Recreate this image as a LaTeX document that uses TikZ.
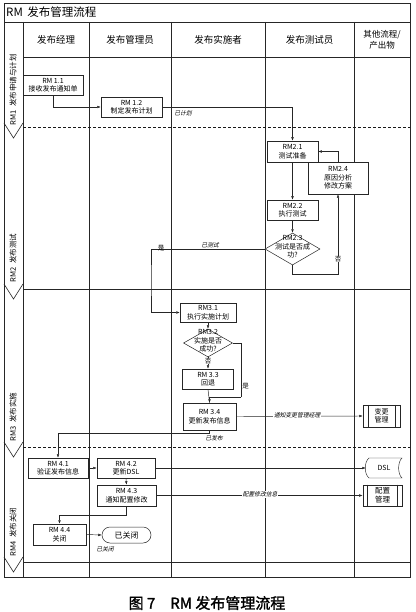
\documentclass[tikz,border=0pt]{standalone}
\usepackage{fontspec}
\setmainfont{Noto Sans CJK SC}
\newfontfamily\slfont[FakeSlant=0.25]{Noto Sans CJK SC}
\newfontfamily\capfont[FakeBold=1.5]{Noto Sans CJK SC}
\usetikzlibrary{arrows.meta,shapes.geometric}
\begin{document}
\begin{tikzpicture}[x=1pt,y=-1pt,
  frame/.style={draw=black!85,line width=0.6pt},
  dline/.style={draw=black!90,line width=1pt,dash pattern=on 3pt off 2pt},
  box/.style={draw=black!85,line width=0.5pt,inner sep=0pt,align=center,fill=white,
    font=\fontsize{7}{8.5}\selectfont},
  arr/.style={draw=black!85,line width=0.45pt,-{Latex[length=3.5pt,width=2.6pt]}},
  ln/.style={draw=black!85,line width=0.45pt},
  lbl/.style={font=\slfont\fontsize{5.8}{6.5}\selectfont,inner sep=1pt},
  dia/.style={diamond,draw=black!85,line width=0.5pt,inner sep=0pt,fill=white},
  dtext/.style={align=center,inner sep=0pt,font=\fontsize{7}{8.5}\selectfont},
  hdr/.style={align=center,inner sep=0pt,font=\fontsize{9.5}{11}\selectfont},
  lane/.style={rotate=90,inner sep=0pt,font=\fontsize{7.5}{8}\selectfont}
]
\useasboundingbox (0,0) rectangle (415,612);
\fill[white] (0,0) rectangle (415,612);

% frame
\draw[frame] (4,3) rectangle (410,577);
\draw[frame] (4,22) -- (410,22);
\draw[frame] (23,57) -- (410,57);
\foreach \x in {23,89,171,265,354} \draw[frame] (\x,22) -- (\x,577);
\draw[dline] (23,128) -- (410,128);
\draw[frame] (23,289) -- (410,289);
\draw[dline] (23,447) -- (410,447);
\draw[frame] (23,562) -- (410,562);
\foreach \b in {128,289,447,562} \draw[frame] (4,\b-5) -- (13.5,\b+10) -- (23,\b-5);

% title and headers
\node[anchor=west,inner sep=0pt,font=\fontsize{11.5}{12}\selectfont] (title) at (6,12.5) {RM\, 发布管理流程};
\node[hdr] (h1) at (56,40) {发布经理};
\node[hdr] (h2) at (130,40) {发布管理员};
\node[hdr] (h3) at (218,40) {发布实施者};
\node[hdr] (h4) at (309.5,40) {发布测试员};
\node[hdr,font=\fontsize{8.5}{10.5}\selectfont] (h5) at (382,40) {其他流程/\\产出物};

% lane labels
\node[lane] (l1) at (13,90) {RM1\; 发布申请与计划};
\node[lane] (l2) at (13,258) {RM2\; 发布测试};
\node[lane] (l3) at (13,417) {RM3\; 发布实施};
\node[lane] (l4) at (13,532) {RM4\; 发布关闭};

% lane 1
\node[box,minimum width=60pt,minimum height=20pt] (n11) at (53,85) {RM 1.1\\接收发布通知单};
\node[box,minimum width=61pt,minimum height=20pt] (n12) at (131.5,107) {RM 1.2\\制定发布计划};

% lane 2
\node[box,minimum width=51pt,minimum height=21pt] (n21) at (292.5,151.5) {RM2.1\\测试准备};
\node[box,minimum width=60pt,minimum height=32pt] (n24) at (338,178) {RM2.4\\原因分析\\修改方案};
\node[box,minimum width=51pt,minimum height=20pt] (n22) at (292.5,210) {RM2.2\\执行测试};
\node[dia,minimum width=55pt,minimum height=32pt] (d23) at (292.5,249) {};
\node[dtext] (t23) at (292.5,247) {RM2.3\\测试是否成\\功?};

% lane 3
\node[box,minimum width=56pt,minimum height=19pt] (n31) at (208,312.5) {RM3.1\\执行实施计划};
\node[dia,minimum width=49pt,minimum height=28pt] (d32) at (208,343) {};
\node[dtext] (t32) at (208,341) {RM3.2\\实施是否\\成功?};
\node[box,minimum width=51pt,minimum height=20pt] (n33) at (208,379) {RM 3.3\\回退};
\node[box,minimum width=53pt,minimum height=27pt] (n34) at (209.5,416.5) {RM 3.4\\更新发布信息};
\node[box,minimum width=37pt,minimum height=22pt] (bg) at (381.5,416) {变更\\管理};
\draw[ln] ([xshift=5pt]bg.north west) -- ([xshift=5pt]bg.south west);
\draw[ln] ([xshift=-5pt]bg.north east) -- ([xshift=-5pt]bg.south east);

% lane 4
\node[box,minimum width=60pt,minimum height=20pt] (n41) at (58,468) {RM 4.1\\验证发布信息};
\node[box,minimum width=58pt,minimum height=20pt] (n42) at (126,468) {RM 4.2\\更新DSL};
\node[box,minimum width=59pt,minimum height=21pt] (n43) at (126.5,495.5) {RM 4.3\\通知配置修改};
\node[box,minimum width=53pt,minimum height=21pt] (n44) at (59.5,534.5) {RM 4.4\\关闭};
\node[box,minimum width=49pt,minimum height=16pt,rounded corners=8pt,font=\fontsize{8}{9}\selectfont] (term) at (126.5,535) {已关闭};
\draw[ln] (369,458) -- (402,458) .. controls (397.5,462) and (397.5,474) .. (402,478)
  -- (369,478) .. controls (364,474) and (364,462) .. (369,458) -- cycle;
\node[inner sep=0pt,minimum width=36pt,minimum height=20pt,font=\fontsize{7}{8}\selectfont] (dsl) at (384,468) {DSL};
\node[box,line width=0.7pt,minimum width=39pt,minimum height=21pt,font=\fontsize{7.5}{9}\selectfont] (pz) at (382.5,495.5) {配置\\管理};
\draw[ln] ([xshift=5pt]pz.north west) -- ([xshift=5pt]pz.south west);
\draw[ln] ([xshift=-5pt]pz.north east) -- ([xshift=-5pt]pz.south east);

% coordinates
\coordinate (c1) at (151,280);
\coordinate (c2) at (241,397);

% connectors lane 1
\draw[arr] (n11.south) |- (n12.west);
\draw[arr] (n12.east) -| (n21.north);
\node[lbl] (a1) at (183,113) {已计划};

% lane 2
\draw[arr] (n21.south) -- (n22.north);
\draw[arr] (n22.south) -- (d23.north);
\draw[arr] (d23.south) -- ++(0,9) -| (n24.south);
\node[fill=white,inner sep=0.5pt,font=\fontsize{6.5}{7}\selectfont] (no1) at (338,259) {否};
\draw[arr] (n24.north) |- (n21.east);
\draw[arr] (d23.west) -| (c1) |- (n31.west);
\node[lbl] (a2) at (210,245.5) {已测试};
\node[inner sep=0.5pt,font=\fontsize{6.5}{7}\selectfont] (yes1) at (161,248) {是};

% lane 3
\draw[arr] (n31.south) -- (d32.north);
\draw[arr] (d32.south) -- (n33.north);
\node[fill=white,inner sep=0.3pt,font=\fontsize{6.5}{7}\selectfont] (no2) at (208,361) {否};
\draw[ln] (d32.east) -| (c2);
\draw[arr] (c2) -| (n34.north);
\draw[ln] (n33.south) -- (n34.north);
\node[inner sep=0.5pt,font=\fontsize{6.5}{7}\selectfont] (yes2) at (245.5,386) {是};
\draw[arr] (n34.east) -- (bg.west);
\node[lbl,fill=white] (a3) at (297,415.5) {通知变更管理经理};
\draw[arr] (n34.south) -- ++(0,3) -| (n41.north);
\node[lbl] (a4) at (214,438) {已发布};

% lane 4
\draw[arr] (n41.east) -- (n42.west);
\draw[arr] (n42.south) -- (n43.north);
\draw[arr] (n42.east) -- (dsl.west);
\draw[arr] (n43.east) -- (pz.west);
\node[lbl,fill=white] (a5) at (260,494.5) {配置修改信息};
\draw[arr] (n43.south) -- ++(0,9) -| (n44.north);
\draw[arr] (n44.east) -- (term.west);
\node[lbl] (a6) at (105,549) {已关闭};

% caption
\node[font=\capfont\fontsize{15}{16}\selectfont,inner sep=0pt] (cap) at (207,603) {图 7\quad RM 发布管理流程};
\end{tikzpicture}
\end{document}
